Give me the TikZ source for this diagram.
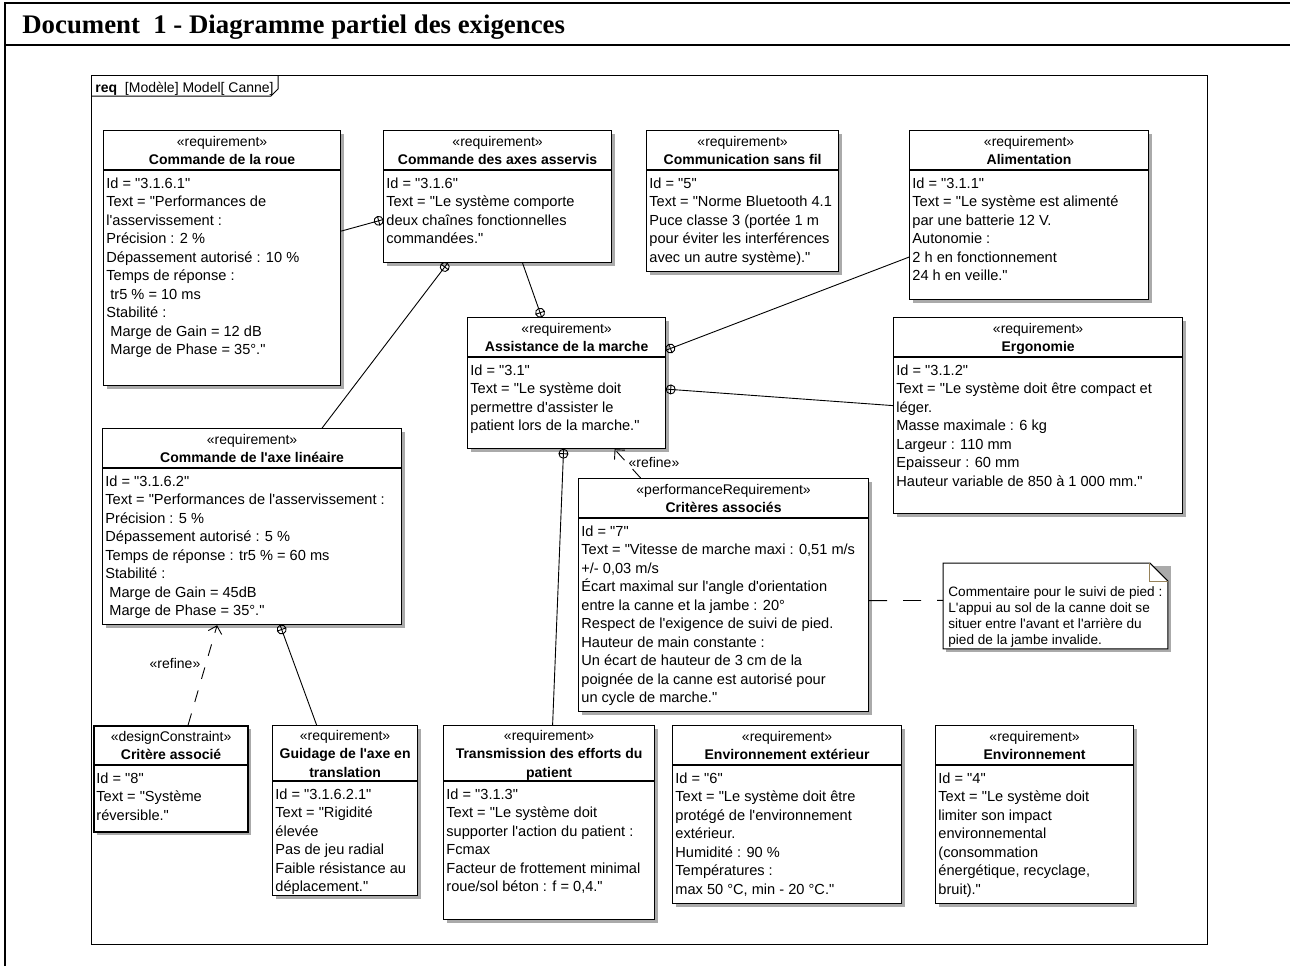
\documentclass[tikz,border=0pt]{standalone}
\usepackage{fontspec}
\newfontfamily\umlfont{Liberation Sans}
\newfontfamily\docfont{Liberation Serif}
\usetikzlibrary{arrows.meta,shadows,decorations.markings}
\definecolor{shadowc}{RGB}{170,170,170}
\definecolor{foldc}{RGB}{150,130,90}
\tikzset{
  reqbox/.style={draw, line width=0.6pt, fill=white, anchor=north west, inner sep=0pt,
    drop shadow={shadow xshift=1.5pt, shadow yshift=-1.5pt, fill=shadowc, opacity=1}},
  headtext/.style={inner sep=0pt, align=center, font=\umlfont\fontsize{7}{9.25}\selectfont},
  bodytext/.style={anchor=north west, inner sep=0pt, align=left, font=\umlfont\fontsize{7.3}{9.25}\selectfont},
  notetext/.style={anchor=north west, inner sep=0pt, align=left, font=\umlfont\fontsize{6.8}{8}\selectfont},
  lbl/.style={inner sep=0pt, font=\umlfont\fontsize{7}{8}\selectfont},
  contain/.style={line width=0.45pt, postaction={decorate, decoration={markings,
    mark=at position 1 with {\draw[line width=0.45pt] (-2.25pt,0pt) circle[radius=2.25pt] (-2.25pt,-2.25pt) -- (-2.25pt,2.25pt);}}}},
  refine/.style={line width=0.45pt, dash pattern=on 6pt off 6pt, -{Straight Barb[length=3.5pt,width=7pt]}},
  trace/.style={line width=0.45pt, dash pattern=on 9pt off 8pt}
}

\begin{document}
\begin{tikzpicture}[x=0.5pt, y=-0.5pt]
  \useasboundingbox (0,0) rectangle (1290,966);

  % document frame
  \draw[line width=1pt] (5,966) -- (5,3) -- (1290,3);
  \draw[line width=1pt] (5,45) -- (1290,45);
  \node[anchor=base west, inner sep=0pt, font=\docfont\bfseries\fontsize{13.4}{16}\selectfont] (title) at (22,33) {Document\ \ 1 - Diagramme partiel des exigences};

  % req frame
  \draw[line width=0.5pt] (91,75) rectangle (1207,944);
  \draw[line width=0.5pt] (91,96) -- (271,96) -- (278,89) -- (278,75);
  \node[lbl, anchor=base west] (frametab) at (95,92) {\textbf{req}\ \ [Modèle] Model[ Canne]};

  \newcommand{\reqbox}[9][]{
    \node[reqbox, minimum width={#5*0.5pt}, minimum height={#6*0.5pt}, #1] (#2) at (#3,#4) {};
    \draw[line width=0.6pt, #1] ([shift={(0,#7)}]#2.north west) -- ([shift={(0,#7)}]#2.north east);
    \node[headtext] (#2-head) at ([shift={(0,#7/2+2)}]#2.north) {\strut#8\strut};
    \node[bodytext] (#2-body) at ([shift={(3,#7+5)}]#2.north west) {\strut#9};
  }

  \reqbox{roue}{103}{130}{237}{255}{40}{«requirement»\\\textbf{Commande de la roue}}
    {Id = "3.1.6.1"\\Text = "Performances de\\l'asservissement :\\Précision : 2 \%\\Dépassement autorisé : 10 \%\\Temps de réponse :\\\hspace*{2pt}tr5 \% = 10 ms\\Stabilité :\\\hspace*{2pt}Marge de Gain = 12 dB\\\hspace*{2pt}Marge de Phase = 35°."}
  \reqbox{axes}{383}{130}{228}{132}{40}{«requirement»\\\textbf{Commande des axes asservis}}
    {Id = "3.1.6"\\Text = "Le système comporte\\deux chaînes fonctionnelles\\commandées."}
  \reqbox{comm}{646}{130}{192}{141}{40}{«requirement»\\\textbf{Communication sans fil}}
    {Id = "5"\\Text = "Norme Bluetooth 4.1\\Puce classe 3 (portée 1 m\\pour éviter les interférences\\avec un autre système)."}
  \reqbox{alim}{909}{130}{239}{169}{40}{«requirement»\\\textbf{Alimentation}}
    {Id = "3.1.1"\\Text = "Le système est alimenté\\par une batterie 12 V.\\Autonomie :\\2 h en fonctionnement\\24 h en veille."}
  \reqbox{assist}{467}{317}{198}{131}{40}{«requirement»\\\textbf{Assistance de la marche}}
    {Id = "3.1"\\Text = "Le système doit\\permettre d'assister le\\patient lors de la marche."}
  \reqbox{ergo}{893}{317}{289}{196}{40}{«requirement»\\\textbf{Ergonomie}}
    {Id = "3.1.2"\\Text = "Le système doit être compact et\\léger.\\Masse maximale : 6 kg\\Largeur : 110 mm\\Epaisseur : 60 mm\\Hauteur variable de 850 à 1 000 mm."}
  \reqbox{lin}{102}{428}{299}{196}{40}{«requirement»\\\textbf{Commande de l'axe linéaire}}
    {Id = "3.1.6.2"\\Text = "Performances de l'asservissement :\\Précision : 5 \%\\Dépassement autorisé : 5 \%\\Temps de réponse : tr5 \% = 60 ms\\Stabilité :\\\hspace*{2pt}Marge de Gain = 45dB\\\hspace*{2pt}Marge de Phase = 35°."}
  \reqbox{crit}{578}{478}{290}{233}{40}{«performanceRequirement»\\\textbf{Critères associés}}
    {Id = "7"\\Text = "Vitesse de marche maxi : 0,51 m/s\\+/- 0,03 m/s\\Écart maximal sur l'angle d'orientation\\entre la canne et la jambe : 20°\\Respect de l'exigence de suivi de pied.\\Hauteur de main constante :\\Un écart de hauteur de 3 cm de la\\poignée de la canne est autorisé pour\\un cycle de marche."}
  \reqbox[line width=1.1pt]{dc}{93}{725}{154}{106}{40}{«designConstraint»\\\textbf{Critère associé}}
    {Id = "8"\\Text = "Système\\réversible."}
  \reqbox{guid}{272}{725}{145}{170}{56}{«requirement»\\\textbf{Guidage de l'axe en}\\\textbf{translation}}
    {Id = "3.1.6.2.1"\\Text = "Rigidité\\élevée\\Pas de jeu radial\\Faible résistance au\\déplacement."}
  \reqbox{trans}{443}{725}{211}{194}{56}{«requirement»\\\textbf{Transmission des efforts du}\\\textbf{patient}}
    {Id = "3.1.3"\\Text = "Le système doit\\supporter l'action du patient :\\Fcmax\\Facteur de frottement minimal\\roue/sol béton : f = 0,4."}
  \reqbox{envext}{672}{725}{229}{178}{40}{«requirement»\\\textbf{Environnement extérieur}}
    {Id = "6"\\Text = "Le système doit être\\protégé de l'environnement\\extérieur.\\Humidité : 90 \%\\Températures :\\max 50 °C, min - 20 °C."}
  \reqbox{env}{935}{725}{198}{178}{40}{«requirement»\\\textbf{Environnement}}
    {Id = "4"\\Text = "Le système doit\\limiter son impact\\environnemental\\(consommation\\énergétique, recyclage,\\bruit)."}

  % comment
  \node[anchor=north west, inner sep=0pt, minimum width=112pt, minimum height=42.5pt] (note) at (943,563) {};
  \fill[shadowc] ([shift={(3,3)}]note.north west) rectangle ([shift={(3,3)}]note.south east);
  \filldraw[fill=white, line width=0.5pt] (note.north west) -- ([xshift=-9pt]note.north east) -- ([yshift=-9pt]note.north east) -- (note.south east) -- (note.south west) -- cycle;
  \draw[foldc, line width=0.5pt] ([xshift=-9pt]note.north east) -- ([xshift=-9pt,yshift=-9pt]note.north east) -- ([yshift=-9pt]note.north east);
  \node[notetext] (note-text) at ([shift={(5,22)}]note.north west) {\strut Commentaire pour le suivi de pied :\\L'appui au sol de la canne doit se\\situer entre l'avant et l'arrière du\\pied de la jambe invalide.};

  % containment
  \draw[contain] ([shift={(0,-27)}]roue.east) -- ([shift={(0,23)}]axes.west);
  \draw[contain] ([shift={(70,0)}]lin.north) -- ([shift={(-50,0)}]axes.south);
  \draw[contain] ([shift={(25,0)}]axes.south) -- ([shift={(-25,0)}]assist.north);
  \draw[contain] ([shift={(0,42)}]alim.west) -- ([shift={(0,-33)}]assist.east);
  \draw[contain] ([shift={(0,-10)}]ergo.west) -- ([shift={(0,6)}]assist.east);
  \draw[contain] ([shift={(3.5,0)}]trans.north) -- ([shift={(-3,0)}]assist.south);
  \draw[contain] ([shift={(-28.5,0)}]guid.north) -- ([shift={(28,0)}]lin.south);

  % refine and comment links
  \draw[refine] ([shift={(-83,0)}]crit.north) -- ([shift={(48,0)}]assist.south);
  \node[lbl] (refine-crit) at (654,462) {«refine»};
  \draw[refine] ([shift={(17,0)}]dc.north) -- ([shift={(-35,0)}]lin.south);
  \node[lbl] (refine-dc) at (175,663) {«refine»};
  \draw[trace] ([shift={(0,5.5)}]crit.east) -- ([shift={(0,-5.5)}]note.west);
\end{tikzpicture}
\end{document}
